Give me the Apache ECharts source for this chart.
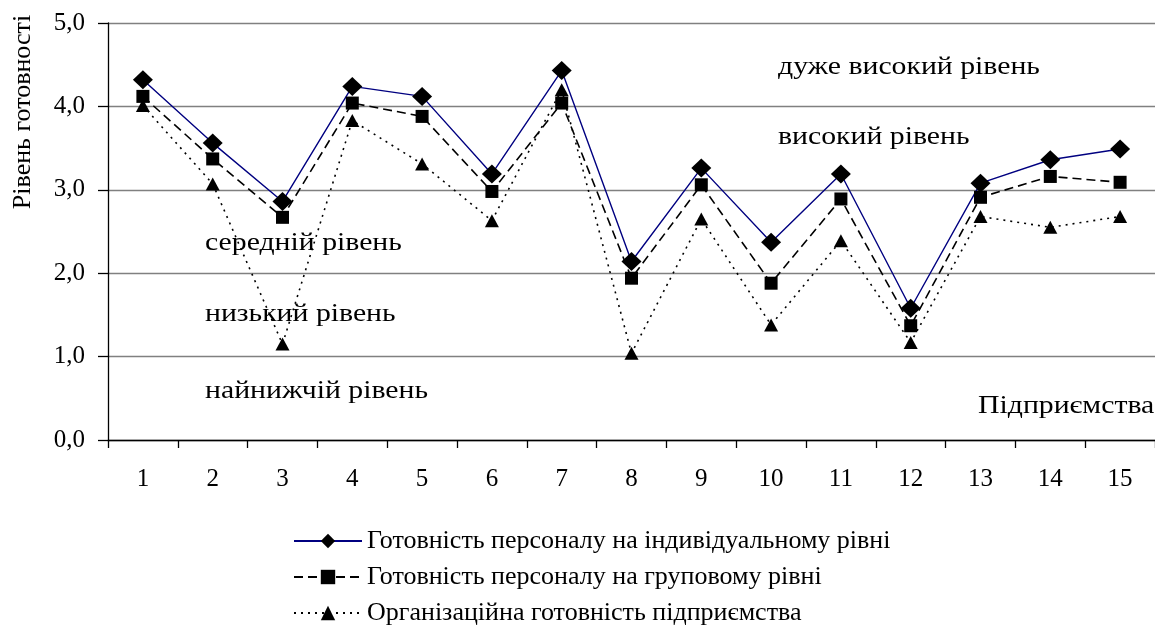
<!DOCTYPE html>
<html>
<head>
<meta charset="utf-8">
<script src="https://cdn.jsdelivr.net/npm/echarts@6/dist/echarts.min.js"></script>
<style>
html,body{margin:0;padding:0;background:#fff;}
#chart{width:1155px;height:626px;}
</style>
</head>
<body>
<div id="chart"></div>
<script>
const categories = ['1','2','3','4','5','6','7','8','9','10','11','12','13','14','15'];
const individual = [4.32, 3.56, 2.86, 4.24, 4.12, 3.19, 4.43, 2.14, 3.26, 2.37, 3.19, 1.58, 3.08, 3.36, 3.49];
const group = [4.12, 3.37, 2.67, 4.04, 3.88, 2.98, 4.04, 1.94, 3.06, 1.88, 2.89, 1.37, 2.91, 3.16, 3.09];
const organizational = [4.01, 3.07, 1.15, 3.83, 3.31, 2.63, 4.20, 1.04, 2.65, 1.38, 2.39, 1.17, 2.68, 2.55, 2.68];
const yTickLabels = ['0,0','1,0','2,0','3,0','4,0','5,0'];
const seriesNames = [
  'Готовність персоналу на індивідуальному рівні',
  'Готовність персоналу на груповому рівні',
  'Організаційна готовність підприємства'
];
const zoneLabels = ['дуже високий рівень','високий рівень','середній рівень','низький рівень','найнижчій рівень'];
const axisTitleY = 'Рівень готовності';
const axisTitleX = 'Підприємства';

const FONT = "'Liberation Serif','Times New Roman',serif";
const FS = 25;

const chart = echarts.init(document.getElementById('chart'), null, {renderer:'canvas'});

function txt(text, x, y, extra) {
  return Object.assign({
    type:'text', x:x, y:y, silent:true, scaleX:1.19,
    style:{text:text, fill:'#000', font: FS + 'px ' + FONT, align:'left', verticalAlign:'middle'}
  }, extra || {});
}

const option = {
  backgroundColor:'#fff',
  animation:false,
  grid:{left:108, top:23, width:1058, height:417, containLabel:false},
  xAxis:{
    type:'category', data:categories, boundaryGap:true,
    axisLine:{show:true, lineStyle:{color:'#000', width:1.3}},
    axisTick:{show:true, length:8, lineStyle:{color:'#000', width:1.3}},
    axisLabel:{color:'#000', fontFamily:FONT, fontSize:FS, margin:27},
    splitLine:{show:false}
  },
  yAxis:{
    type:'value', min:0, max:5, interval:1,
    axisLine:{show:true, lineStyle:{color:'#000', width:1.3}},
    axisTick:{show:true, length:10, lineStyle:{color:'#000', width:1.3}},
    axisLabel:{color:'#000', fontFamily:FONT, fontSize:FS, margin:23,
      formatter:function(v){ return yTickLabels[Math.round(v)]; }},
    splitLine:{show:true, lineStyle:{color:'#808080', width:1.3}}
  },
  legend:{
    orient:'vertical', left:293, top:528, padding:0,
    itemWidth:68, itemHeight:18, itemGap:10,
    textStyle:{color:'#000', fontFamily:FONT, fontSize:26, lineHeight:25},
    data:seriesNames
  },
  series:[
    {
      name:seriesNames[2], type:'line', data:organizational,
      symbol:'triangle', symbolSize:[14,13],
      itemStyle:{color:'#000'},
      lineStyle:{color:'#000', width:1.6, type:[2,5]}
    },
    {
      name:seriesNames[1], type:'line', data:group,
      symbol:'rect', symbolSize:13,
      itemStyle:{color:'#000'},
      lineStyle:{color:'#000', width:1.6, type:[9,5]}
    },
    {
      name:seriesNames[0], type:'line', data:individual,
      symbol:'diamond', symbolSize:[20,19],
      itemStyle:{color:'#000'},
      lineStyle:{color:'#000080', width:1.4}
    }
  ],
  graphic:[
    txt(zoneLabels[0], 778, 67),
    txt(zoneLabels[1], 778, 137),
    txt(zoneLabels[2], 205, 243),
    txt(zoneLabels[3], 205, 314),
    txt(zoneLabels[4], 205, 391),
    txt(axisTitleX, 978, 406),
    txt(axisTitleY, 23, 112, {rotation:Math.PI/2, scaleX:1.04, style:{text:axisTitleY, fill:'#000', font: FS + 'px ' + FONT, align:'center', verticalAlign:'middle'}})
  ]
};
chart.setOption(option);
</script>
</body>
</html>
